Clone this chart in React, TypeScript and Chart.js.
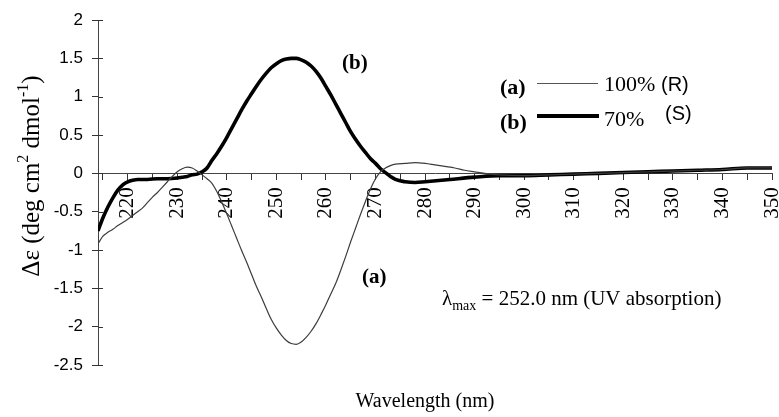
import { useEffect, useRef } from "react";
import { Chart, registerables } from "chart.js";

Chart.register(...registerables);

// Series (a): 100% (R)
const wavelengthA = [
  214, 215, 216, 217, 218, 219, 220, 221, 222, 223, 224, 225, 226, 227, 228, 229, 230, 231, 232, 233,
  234, 235, 236, 237, 238, 239, 240, 241, 242, 243, 244, 245, 246, 247, 248, 249, 250, 251, 252, 253,
  254, 255, 256, 257, 258, 259, 260, 261, 262, 263, 264, 265, 266, 267, 268, 269, 270, 271, 272, 273,
  274, 276, 278, 280, 282, 284, 286, 288, 290, 292, 295, 300, 305, 310, 315, 320, 325, 330, 335, 340,
  345, 350,
];
const deltaEpsA = [
  -0.92, -0.82, -0.77, -0.73, -0.68, -0.64, -0.6, -0.55, -0.5, -0.45, -0.38, -0.31, -0.25, -0.18, -0.11, -0.04, 0.02, 0.06, 0.08, 0.07,
  0.03, -0.02, -0.07, -0.13, -0.24, -0.38, -0.53, -0.69, -0.85, -1.01, -1.16, -1.32, -1.48, -1.62, -1.77, -1.91, -2.02, -2.11, -2.18, -2.22,
  -2.23, -2.2, -2.14, -2.06, -1.96, -1.84, -1.71, -1.57, -1.43, -1.26, -1.08, -0.89, -0.71, -0.53, -0.36, -0.2, -0.07, 0.02, 0.07, 0.1,
  0.12, 0.13, 0.14, 0.13, 0.11, 0.09, 0.07, 0.04, 0.02, 0.0, -0.02, -0.03, -0.02, -0.01, 0.0, 0.01, 0.02, 0.03, 0.04, 0.05,
  0.07, 0.07,
];

// Series (b): 70% (S)
const wavelengthB = [
  214, 215, 216, 217, 218, 219, 220, 221, 222, 224, 226, 228, 230, 231, 232, 233, 234, 235, 236, 237,
  238, 239, 240, 241, 242, 243, 244, 245, 246, 247, 248, 249, 250, 251, 252, 253, 254, 255, 256, 257,
  258, 259, 260, 261, 262, 263, 264, 265, 266, 267, 268, 269, 270, 271, 272, 273, 274, 276, 278, 280,
  285, 290, 295, 300, 305, 310, 315, 320, 325, 330, 335, 340, 345, 350,
];
const deltaEpsB = [
  -0.75, -0.58, -0.44, -0.32, -0.22, -0.15, -0.11, -0.09, -0.08, -0.08, -0.07, -0.07, -0.06, -0.05, -0.04, -0.02, -0.01, 0.02, 0.07, 0.17,
  0.26, 0.36, 0.47, 0.59, 0.71, 0.83, 0.94, 1.04, 1.14, 1.23, 1.31, 1.38, 1.43, 1.47, 1.49, 1.5, 1.5, 1.48, 1.45, 1.4,
  1.33, 1.24, 1.13, 1.02, 0.9, 0.78, 0.66, 0.54, 0.44, 0.35, 0.27, 0.19, 0.13, 0.06, 0.01, -0.04, -0.08, -0.11, -0.12, -0.11,
  -0.08, -0.05, -0.03, -0.03, -0.02, -0.01, 0.0, 0.01, 0.02, 0.03, 0.04, 0.05, 0.07, 0.07,
];

const xTickValues = [
  215, 220, 225, 230, 235, 240, 245, 250, 255, 260, 265, 270, 275, 280, 285, 290, 295, 300, 305, 310,
  315, 320, 325, 330, 335, 340, 345, 350,
];
const xLabelValues = [220, 230, 240, 250, 260, 270, 280, 290, 300, 310, 320, 330, 340, 350];
const yTickValues = [2, 1.5, 1, 0.5, 0, -0.5, -1, -1.5, -2, -2.5];

const legendLabelsA = ["(a)", "100%", "(R)"];
const legendLabelsB = ["(b)", "70%", "(S)"];
const yTitleParts = ["\u0394\u03b5 (deg cm", "2", " dmol", "-1", ")"];
const xTitle = "Wavelength (nm)";
const lambdaText = ["\u03bb", "max", " = 252.0 nm (UV absorption)"];

const SERIF = '"Liberation Serif", "Times New Roman", serif';
const SANS = '"Liberation Sans", Arial, sans-serif';

const overlayPlugin = {
  id: "overlay",
  afterDraw(chart: any) {
    const ctx: CanvasRenderingContext2D = chart.ctx;
    const { left } = chart.chartArea;
    const yScale = chart.scales.y;
    ctx.save();

    // inner half of y ticks (ticks cross the axis)
    ctx.strokeStyle = "#333";
    ctx.lineWidth = 1;
    yScale.ticks.forEach((t: any) => {
      const py = Math.round(yScale.getPixelForValue(t.value)) + 0.5;
      ctx.beginPath();
      ctx.moveTo(left, py);
      ctx.lineTo(left + 5, py);
      ctx.stroke();
    });

    ctx.fillStyle = "#000";
    ctx.textBaseline = "alphabetic";
    ctx.textAlign = "left";

    // y title (rotated, with superscripts)
    ctx.save();
    ctx.translate(39, 176);
    ctx.rotate(-Math.PI / 2);
    const mainFont = `25px ${SERIF}`;
    const supFont = `16px ${SERIF}`;
    const fonts = [mainFont, supFont, mainFont, supFont, mainFont];
    const offs = [0, -11, 0, -11, 0];
    let total = 0;
    const widths = yTitleParts.map((p, i) => {
      ctx.font = fonts[i];
      const w = ctx.measureText(p).width;
      total += w;
      return w;
    });
    let cx = -total / 2;
    yTitleParts.forEach((p, i) => {
      ctx.font = fonts[i];
      ctx.fillText(p, cx, offs[i]);
      cx += widths[i];
    });
    ctx.restore();

    // x title
    ctx.font = `20px ${SERIF}`;
    ctx.textAlign = "center";
    ctx.fillText(xTitle, 425, 407);
    ctx.textAlign = "left";

    // legend
    ctx.font = `bold 22px ${SERIF}`;
    ctx.fillText(legendLabelsA[0], 500, 94);
    ctx.fillText(legendLabelsB[0], 500, 129);
    ctx.strokeStyle = "#555";
    ctx.lineWidth = 1.2;
    ctx.beginPath();
    ctx.moveTo(537, 83.5);
    ctx.lineTo(598, 83.5);
    ctx.stroke();
    ctx.strokeStyle = "#000";
    ctx.lineWidth = 4;
    ctx.beginPath();
    ctx.moveTo(537, 116);
    ctx.lineTo(599, 116);
    ctx.stroke();
    ctx.font = `22px ${SERIF}`;
    ctx.fillText(legendLabelsA[1], 604, 91);
    ctx.fillText(legendLabelsB[1], 604, 126);
    ctx.font = `20px ${SANS}`;
    ctx.fillText(legendLabelsA[2], 661, 91);
    ctx.fillText(legendLabelsB[2], 665, 120);

    // curve annotations
    ctx.font = `bold 21px ${SERIF}`;
    ctx.fillText("(b)", 342, 69);
    ctx.fillText("(a)", 362, 283);

    // lambda max text
    let lx = 442;
    const ly = 305;
    ctx.font = `21px ${SERIF}`;
    ctx.fillText(lambdaText[0], lx, ly);
    lx += ctx.measureText(lambdaText[0]).width;
    ctx.font = `14px ${SERIF}`;
    ctx.fillText(lambdaText[1], lx, ly + 5);
    lx += ctx.measureText(lambdaText[1]).width;
    ctx.font = `21px ${SERIF}`;
    ctx.fillText(lambdaText[2], lx, ly);

    ctx.restore();
  },
};

export default function App() {
  const canvasRef = useRef<HTMLCanvasElement | null>(null);

  useEffect(() => {
    const canvas = canvasRef.current;
    if (!canvas) return;
    const chart = new Chart(canvas, {
      type: "line",
      data: {
        datasets: [
          {
            label: "100% (R)",
            data: wavelengthA.map((x, i) => ({ x, y: deltaEpsA[i] })),
            borderColor: "#3c3c3c",
            borderWidth: 1.2,
            pointRadius: 0,
            cubicInterpolationMode: "monotone",
            fill: false,
          },
          {
            label: "70% (S)",
            data: wavelengthB.map((x, i) => ({ x, y: deltaEpsB[i] })),
            borderColor: "#000",
            borderWidth: 3.6,
            pointRadius: 0,
            cubicInterpolationMode: "monotone",
            fill: false,
          },
        ],
      },
      options: {
        responsive: false,
        animation: false,
        devicePixelRatio: 1,
        layout: { padding: { left: 0, right: 7, top: 20, bottom: 52 } },
        plugins: {
          legend: { display: false },
          tooltip: { enabled: false },
        },
        scales: {
          x: {
            type: "linear",
            min: 214,
            max: 350,
            position: { y: 0 },
            afterBuildTicks: (s: any) => {
              s.ticks = xTickValues.map((v) => ({ value: v }));
            },
            afterFit: (s: any) => {
              s.paddingLeft = 0;
              s.paddingRight = 0;
            },
            ticks: {
              autoSkip: false,
              minRotation: 90,
              maxRotation: 90,
              padding: 8,
              color: "#000",
              font: { family: SERIF, size: 21 },
              callback: (v: any) => (xLabelValues.includes(Number(v)) ? String(v) : ""),
            },
            grid: { drawOnChartArea: false, drawTicks: true, tickLength: 6, color: "#333" },
            border: { display: true, color: "#444", width: 1 },
          },
          y: {
            type: "linear",
            min: -2.5,
            max: 2,
            afterBuildTicks: (s: any) => {
              s.ticks = yTickValues.map((v) => ({ value: v }));
            },
            afterFit: (s: any) => {
              s.width = 98;
            },
            ticks: {
              padding: 9,
              color: "#000",
              font: { family: SANS, size: 17 },
              callback: (v: any) => String(Number(v)),
            },
            grid: { drawOnChartArea: false, drawTicks: true, tickLength: 6, color: "#333" },
            border: { display: true, color: "#444", width: 1 },
          },
        },
      },
      plugins: [overlayPlugin],
    } as any);
    return () => chart.destroy();
  }, []);

  return (
    <div style={{ position: "absolute", left: 0, top: 0, width: 779, height: 417, background: "#fff" }}>
      <canvas ref={canvasRef} width={779} height={417} style={{ display: "block" }} />
    </div>
  );
}
